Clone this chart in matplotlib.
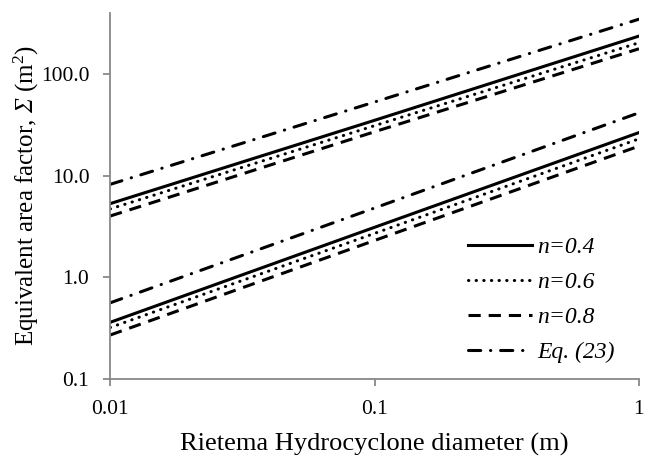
import matplotlib
matplotlib.use("Agg")
import matplotlib.pyplot as plt

plt.rcParams['font.family'] = ['Liberation Serif', 'DejaVu Serif']
plt.rcParams['mathtext.fontset'] = 'custom'
plt.rcParams['mathtext.rm'] = 'Liberation Serif'
plt.rcParams['mathtext.it'] = 'Liberation Serif:italic'
plt.rcParams['mathtext.sf'] = 'Liberation Serif:italic'

diameter = [0.01, 0.1, 1.0]

# upper group
up_n04 = [5.3, 35.0, 236.0]
up_n06 = [4.7, 31.0, 203.0]
up_n08 = [4.0, 27.0, 177.0]
up_eq23 = [8.2, 53.0, 346.0]

# lower group
lo_n04 = [0.36, 3.1, 26.5]
lo_n06 = [0.32, 2.7, 23.0]
lo_n08 = [0.27, 2.3, 19.5]
lo_eq23 = [0.56, 4.8, 41.5]

labels = ["n=0.4", "n=0.6", "n=0.8", "Eq. (23)"]
yticks = [0.1, 1.0, 10.0, 100.0]
xticks = [0.01, 0.1, 1]
xticklabels = ["0.01", "0.1", "1"]

fig = plt.figure(figsize=(6.52, 4.57), dpi=100)
ax = fig.add_axes([0.169, 0.171, 0.811, 0.801])

lw = 2.2
styles = [
    dict(linestyle='-'),
    dict(linestyle=(0, (0.1, 2.4)), dash_capstyle='round'),
    dict(linestyle=(0, (4.0, 2.6)), dash_capstyle='butt'),
    dict(linestyle=(0, (4.0, 3.2, 0.1, 3.2)), dash_capstyle='round'),
]

groups_up = [up_n04, up_n06, up_n08, up_eq23]
groups_lo = [lo_n04, lo_n06, lo_n08, lo_eq23]
for i, (u, l) in enumerate(zip(groups_up, groups_lo)):
    ax.plot(diameter, u, color='black', lw=lw, label=labels[i], **styles[i])
    ax.plot(diameter, l, color='black', lw=lw, **styles[i])

ax.set_xscale('log')
ax.set_yscale('log')
ax.set_xlim(0.01, 1)
ax.set_ylim(0.1, 400)
ax.set_xticks(xticks)
ax.set_xticklabels(xticklabels)
ax.set_yticks(yticks)
ax.set_yticklabels([f"{v:.1f}" for v in yticks])
ax.minorticks_off()

for s in ['top', 'right']:
    ax.spines[s].set_visible(False)
for s in ['left', 'bottom']:
    ax.spines[s].set_color('#888888')
    ax.spines[s].set_linewidth(1.3)
ax.tick_params(axis='both', which='major', direction='out', length=5, width=1.3,
               color='#888888', labelsize=15.5)
ax.tick_params(axis='y', pad=10)
ax.tick_params(axis='x', pad=10)

ax.set_xlabel("Rietema Hydrocyclone diameter (m)", fontsize=19, labelpad=10)
ax.set_ylabel("Equivalent area factor, $\\mathsf{Σ}$ (m$^2$)", fontsize=18, labelpad=0)

leg = ax.legend(loc='lower right', bbox_to_anchor=(0.995, -0.015), frameon=False,
                prop={'family': 'Liberation Serif', 'style': 'italic', 'size': 17},
                handlelength=2.7, handletextpad=0.25, labelspacing=0.57)

fig.savefig("out.png", dpi=100)
